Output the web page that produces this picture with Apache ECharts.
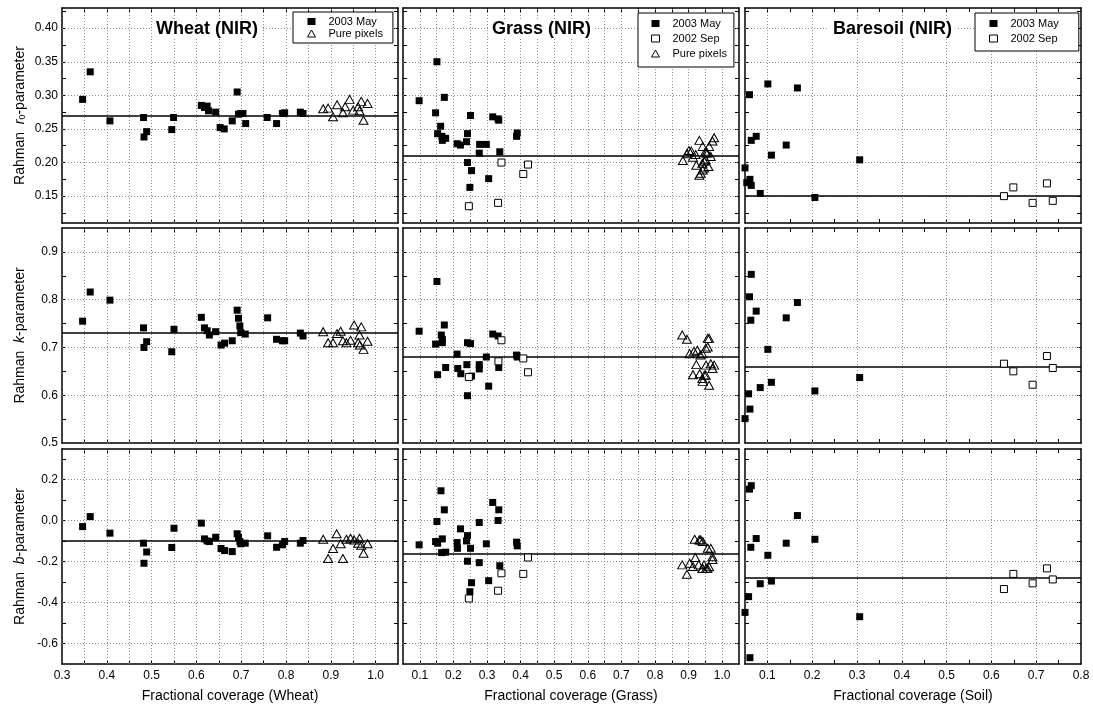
<!DOCTYPE html>
<html>
<head>
<meta charset="utf-8">
<title>Rahman parameters vs fractional coverage</title>
<script src="https://cdn.jsdelivr.net/npm/echarts@6.0.0/dist/echarts.min.js"></script>
<style>
  html, body { margin: 0; padding: 0; background: #fff; }
  #main { width: 1093px; height: 711px; }
</style>
</head>
<body>
<div id="main"></div>
<script>
const FONT = "'Liberation Sans', Arial, sans-serif";

// column titles / axis names
const colTitles = ["Wheat (NIR)", "Grass (NIR)", "Baresoil (NIR)"];
const xNames = ["Fractional coverage (Wheat)", "Fractional coverage (Grass)", "Fractional coverage (Soil)"];
const yNames = ["Rahman  {i|r}{s|0}-parameter", "Rahman  {i|k}-parameter", "Rahman  {i|b}-parameter"];

// axis ranges, ticks, labels, grid lines
const xRanges = [[0.3, 1.05], [0.05, 1.05], [0.05, 0.8]];
const xTicks = [
  [0.35, 0.4, 0.45, 0.5, 0.55, 0.6, 0.65, 0.7, 0.75, 0.8, 0.85, 0.9, 0.95, 1.0],
  [0.1, 0.15, 0.2, 0.25, 0.3, 0.35, 0.4, 0.45, 0.5, 0.55, 0.6, 0.65, 0.7, 0.75, 0.8, 0.85, 0.9, 0.95, 1.0],
  [0.1, 0.15, 0.2, 0.25, 0.3, 0.35, 0.4, 0.45, 0.5, 0.55, 0.6, 0.65, 0.7, 0.75]
];
const xLabels = [
  [0.3, 0.4, 0.5, 0.6, 0.7, 0.8, 0.9, 1.0],
  [0.1, 0.2, 0.3, 0.4, 0.5, 0.6, 0.7, 0.8, 0.9, 1.0],
  [0.1, 0.2, 0.3, 0.4, 0.5, 0.6, 0.7, 0.8]
];
const xGrid = [
  [0.35, 0.4, 0.45, 0.5, 0.55, 0.6, 0.65, 0.7, 0.75, 0.8, 0.85, 0.9, 0.95, 1.0],
  [0.1, 0.15, 0.2, 0.25, 0.3, 0.35, 0.4, 0.45, 0.5, 0.55, 0.6, 0.65, 0.7, 0.75, 0.8, 0.85, 0.9, 0.95, 1.0],
  [0.1, 0.2, 0.3, 0.4, 0.5, 0.6, 0.7]
];
const yRanges = [[0.11, 0.43], [0.5, 0.95], [-0.7, 0.35]];
const yTicks = [
  [0.125, 0.15, 0.175, 0.2, 0.225, 0.25, 0.275, 0.3, 0.325, 0.35, 0.375, 0.4, 0.425],
  [0.55, 0.6, 0.65, 0.7, 0.75, 0.8, 0.85, 0.9],
  [-0.6, -0.5, -0.4, -0.3, -0.2, -0.1, 0.0, 0.1, 0.2, 0.3]
];
const yLabels = [
  [0.15, 0.2, 0.25, 0.3, 0.35, 0.4],
  [0.5, 0.6, 0.7, 0.8, 0.9],
  [-0.6, -0.4, -0.2, 0.0, 0.2]
];
const yGrid = [
  [0.15, 0.2, 0.25, 0.3, 0.35, 0.4],
  [0.6, 0.7, 0.8, 0.9],
  [-0.6, -0.4, -0.2, 0.0, 0.2]
];
const yDecimals = [2, 1, 1];

// fitted (mean) lines per panel row
const r0Means = [0.270, 0.206, 0.153];
const kMeans = [0.733, 0.680, 0.655];
const bMeans = [-0.102, -0.159, -0.283];

// ---- wheat ----
const wheatR0May = [[0.346,0.294],[0.363,0.335],[0.407,0.262],[0.482,0.267],[0.483,0.238],[0.489,0.246],[0.545,0.249],[0.549,0.267],[0.611,0.285],[0.618,0.282],[0.624,0.284],[0.627,0.277],[0.643,0.275],[0.653,0.252],[0.662,0.250],[0.680,0.262],[0.691,0.305],[0.694,0.272],[0.699,0.273],[0.704,0.273],[0.710,0.258],[0.758,0.267],[0.779,0.258],[0.792,0.273],[0.797,0.274],[0.832,0.275],[0.838,0.273]];
const wheatR0Pure = [[0.883,0.280],[0.894,0.281],[0.905,0.268],[0.914,0.286],[0.927,0.274],[0.932,0.283],[0.942,0.294],[0.950,0.278],[0.961,0.283],[0.964,0.277],[0.968,0.291],[0.973,0.263],[0.982,0.288]];
const wheatKMay = [[0.346,0.755],[0.363,0.816],[0.407,0.799],[0.482,0.741],[0.483,0.700],[0.489,0.712],[0.545,0.691],[0.550,0.738],[0.611,0.763],[0.618,0.741],[0.624,0.735],[0.629,0.726],[0.643,0.733],[0.655,0.705],[0.663,0.709],[0.680,0.714],[0.691,0.778],[0.694,0.761],[0.697,0.745],[0.699,0.731],[0.709,0.728],[0.759,0.762],[0.779,0.717],[0.792,0.714],[0.797,0.714],[0.832,0.730],[0.838,0.724]];
const wheatKPure = [[0.883,0.733],[0.894,0.710],[0.905,0.710],[0.914,0.729],[0.922,0.734],[0.927,0.714],[0.935,0.710],[0.944,0.715],[0.952,0.747],[0.961,0.710],[0.964,0.726],[0.965,0.705],[0.968,0.743],[0.973,0.696],[0.982,0.713]];
const wheatBMay = [[0.346,-0.029],[0.363,0.020],[0.407,-0.061],[0.482,-0.110],[0.483,-0.208],[0.489,-0.153],[0.545,-0.131],[0.550,-0.037],[0.611,-0.012],[0.618,-0.089],[0.624,-0.099],[0.629,-0.102],[0.643,-0.081],[0.655,-0.136],[0.663,-0.146],[0.680,-0.151],[0.691,-0.064],[0.694,-0.081],[0.697,-0.102],[0.699,-0.113],[0.709,-0.110],[0.759,-0.074],[0.779,-0.130],[0.792,-0.118],[0.797,-0.102],[0.832,-0.110],[0.838,-0.097]];
const wheatBPure = [[0.883,-0.091],[0.894,-0.185],[0.905,-0.136],[0.913,-0.064],[0.922,-0.113],[0.927,-0.185],[0.935,-0.091],[0.944,-0.086],[0.952,-0.094],[0.961,-0.110],[0.964,-0.086],[0.968,-0.120],[0.973,-0.159],[0.982,-0.113]];

// ---- grass ----
const grassR0May = [[0.098,0.292],[0.151,0.350],[0.173,0.297],[0.147,0.274],[0.162,0.254],[0.153,0.243],[0.166,0.239],[0.177,0.236],[0.167,0.233],[0.211,0.228],[0.221,0.226],[0.239,0.231],[0.242,0.243],[0.251,0.270],[0.242,0.200],[0.254,0.188],[0.249,0.163],[0.277,0.214],[0.278,0.227],[0.298,0.227],[0.305,0.176],[0.317,0.268],[0.333,0.265],[0.335,0.263],[0.338,0.216],[0.388,0.239],[0.390,0.244]];
const grassR0Sep = [[0.246,0.135],[0.333,0.140],[0.343,0.200],[0.408,0.183],[0.422,0.197]];
const grassR0Pure = [[0.883,0.203],[0.895,0.213],[0.901,0.218],[0.908,0.217],[0.913,0.208],[0.921,0.212],[0.923,0.196],[0.932,0.233],[0.932,0.181],[0.936,0.184],[0.941,0.199],[0.942,0.224],[0.942,0.189],[0.947,0.202],[0.951,0.204],[0.951,0.217],[0.946,0.192],[0.952,0.214],[0.956,0.214],[0.959,0.194],[0.961,0.224],[0.966,0.209],[0.971,0.232],[0.976,0.237]];
const grassKMay = [[0.098,0.734],[0.151,0.838],[0.173,0.747],[0.164,0.726],[0.167,0.717],[0.167,0.710],[0.147,0.707],[0.177,0.658],[0.153,0.643],[0.211,0.686],[0.213,0.656],[0.222,0.645],[0.240,0.664],[0.242,0.710],[0.251,0.708],[0.242,0.599],[0.254,0.640],[0.277,0.664],[0.277,0.655],[0.298,0.680],[0.305,0.619],[0.317,0.728],[0.333,0.724],[0.335,0.658],[0.388,0.684],[0.390,0.680]];
const grassKSep = [[0.246,0.638],[0.334,0.671],[0.343,0.715],[0.408,0.677],[0.422,0.648]];
const grassKPure = [[0.881,0.726],[0.895,0.717],[0.903,0.687],[0.913,0.643],[0.916,0.692],[0.923,0.664],[0.926,0.694],[0.933,0.645],[0.935,0.684],[0.941,0.687],[0.941,0.635],[0.942,0.629],[0.947,0.642],[0.951,0.698],[0.951,0.642],[0.952,0.663],[0.957,0.719],[0.957,0.701],[0.961,0.719],[0.961,0.621],[0.966,0.666],[0.971,0.656],[0.976,0.663]];
const grassBMay = [[0.098,-0.118],[0.163,0.146],[0.173,0.053],[0.151,-0.004],[0.147,-0.102],[0.153,-0.110],[0.167,-0.089],[0.165,-0.156],[0.177,-0.154],[0.221,-0.040],[0.211,-0.107],[0.212,-0.135],[0.242,-0.073],[0.239,-0.099],[0.251,-0.135],[0.242,-0.198],[0.254,-0.303],[0.249,-0.347],[0.277,-0.009],[0.277,-0.205],[0.298,-0.113],[0.305,-0.293],[0.317,0.089],[0.335,0.053],[0.333,0.001],[0.338,-0.220],[0.388,-0.105],[0.390,-0.123]];
const grassBSep = [[0.246,-0.380],[0.333,-0.342],[0.343,-0.257],[0.408,-0.260],[0.422,-0.180]];
const grassBPure = [[0.881,-0.216],[0.895,-0.262],[0.903,-0.208],[0.913,-0.224],[0.918,-0.091],[0.920,-0.180],[0.930,-0.216],[0.932,-0.094],[0.936,-0.094],[0.941,-0.233],[0.942,-0.102],[0.942,-0.233],[0.946,-0.216],[0.952,-0.233],[0.956,-0.233],[0.957,-0.135],[0.961,-0.225],[0.966,-0.135],[0.971,-0.176],[0.971,-0.190]];

// ---- bare soil ----
const soilR0May = [[0.050,0.192],[0.054,0.170],[0.060,0.301],[0.061,0.175],[0.064,0.233],[0.064,0.166],[0.075,0.239],[0.084,0.154],[0.101,0.317],[0.109,0.211],[0.142,0.226],[0.167,0.311],[0.206,0.148],[0.306,0.204]];
const soilR0Sep = [[0.628,0.150],[0.649,0.163],[0.692,0.140],[0.724,0.169],[0.737,0.143]];
const soilKMay = [[0.050,0.551],[0.058,0.603],[0.060,0.806],[0.061,0.571],[0.063,0.757],[0.064,0.853],[0.075,0.776],[0.084,0.616],[0.101,0.696],[0.109,0.627],[0.142,0.762],[0.167,0.794],[0.206,0.609],[0.306,0.637]];
const soilKSep = [[0.628,0.666],[0.649,0.650],[0.692,0.622],[0.724,0.682],[0.737,0.657]];
const soilBMay = [[0.050,-0.448],[0.058,-0.371],[0.060,0.154],[0.061,-0.669],[0.063,-0.130],[0.064,0.171],[0.075,-0.087],[0.084,-0.308],[0.101,-0.169],[0.109,-0.295],[0.142,-0.110],[0.167,0.025],[0.206,-0.091],[0.306,-0.469]];
const soilBSep = [[0.628,-0.334],[0.649,-0.260],[0.692,-0.306],[0.724,-0.233],[0.737,-0.287]];

// panel contents, row by row
const panels = [
  [["2003 May", wheatR0May], ["Pure pixels", wheatR0Pure]],
  [["2003 May", grassR0May], ["2002 Sep", grassR0Sep], ["Pure pixels", grassR0Pure]],
  [["2003 May", soilR0May], ["2002 Sep", soilR0Sep]],
  [["2003 May", wheatKMay], ["Pure pixels", wheatKPure]],
  [["2003 May", grassKMay], ["2002 Sep", grassKSep], ["Pure pixels", grassKPure]],
  [["2003 May", soilKMay], ["2002 Sep", soilKSep]],
  [["2003 May", wheatBMay], ["Pure pixels", wheatBPure]],
  [["2003 May", grassBMay], ["2002 Sep", grassBSep], ["Pure pixels", grassBPure]],
  [["2003 May", soilBMay], ["2002 Sep", soilBSep]]
];
const rowMeans = [r0Means, kMeans, bMeans];

// layout (px)
const gridLeft = [62, 403, 745];
const gridTop = [8, 228, 449];
const gridW = 336;
const gridH = 215;

const markStyle = {
  "2003 May": { symbol: "rect", symbolSize: 7, itemStyle: { color: "#000", opacity: 1 } },
  "2002 Sep": { symbol: "rect", symbolSize: 7, itemStyle: { color: "#fff", borderColor: "#000", borderWidth: 1, opacity: 1 } },
  "Pure pixels": { symbol: "triangle", symbolSize: [9, 8], itemStyle: { color: "rgba(255,255,255,0)", borderColor: "#000", borderWidth: 1, opacity: 1 } }
};

let grids = [], xAxes = [], yAxes = [], series = [];

for (let r = 0; r < 3; r++) {
  for (let c = 0; c < 3; c++) {
    let p = r * 3 + c;
    grids.push({
      left: gridLeft[c], top: gridTop[r], width: gridW, height: gridH,
      containLabel: false, outerBoundsMode: "none"
    });

    let axLine = { onZero: false, lineStyle: { color: "#000", width: 1.5 } };
    // bottom / top x axes
    ["bottom", "top"].forEach(function (pos) {
      let isMain = pos === "bottom";
      xAxes.push({
        gridIndex: p, type: "value", position: pos,
        min: xRanges[c][0], max: xRanges[c][1],
        axisLine: axLine,
        axisTick: { inside: true, length: 4, customValues: xTicks[c], lineStyle: { color: "#000", width: 1 } },
        axisLabel: {
          show: isMain && r === 2, customValues: xLabels[c],
          formatter: function (v) { return v.toFixed(1); },
          color: "#000", fontSize: 12, fontFamily: FONT, margin: 6
        },
        splitLine: { show: false },
        name: isMain && r === 2 ? xNames[c] : "",
        nameLocation: "middle", nameGap: 25,
        nameTextStyle: { color: "#000", fontSize: 14, fontFamily: FONT }
      });
    });
    // left / right y axes
    ["left", "right"].forEach(function (pos) {
      let isMain = pos === "left";
      yAxes.push({
        gridIndex: p, type: "value", position: pos,
        min: yRanges[r][0], max: yRanges[r][1],
        axisLine: axLine,
        axisTick: { inside: true, length: 4, customValues: yTicks[r], lineStyle: { color: "#000", width: 1 } },
        axisLabel: {
          show: isMain && c === 0, customValues: yLabels[r],
          formatter: function (v) { return v.toFixed(yDecimals[r]); },
          color: "#000", fontSize: 12, fontFamily: FONT, margin: 4
        },
        splitLine: { show: false },
        name: isMain && c === 0 ? yNames[r] : "",
        nameLocation: "middle", nameGap: 35,
        nameTextStyle: {
          color: "#000", fontSize: 14, fontFamily: FONT,
          rich: {
            i: { fontStyle: "italic", fontSize: 14, fontFamily: FONT, color: "#000" },
            s: { fontSize: 9, fontFamily: FONT, color: "#000", verticalAlign: "bottom" }
          }
        }
      });
    });

    // dotted grid lines + fitted line, drawn through the axes' scales
    let gridLines = yGrid[r].map(function (v) { return { yAxis: v }; })
      .concat(xGrid[c].map(function (v) { return { xAxis: v }; }));

    panels[p].forEach(function (item, k) {
      let st = markStyle[item[0]];
      let s = {
        type: "scatter", name: item[0], data: item[1],
        xAxisIndex: 2 * p, yAxisIndex: 2 * p,
        symbol: st.symbol, symbolSize: st.symbolSize, itemStyle: st.itemStyle,
        clip: true, z: 3,
        emphasis: { disabled: true }
      };
      if (k === 0) {
        s.markLine = {
          silent: true, symbol: "none", z: 1, animation: false,
          label: { show: false },
          lineStyle: { color: "#8a8a8a", type: [1, 2], width: 1 },
          emphasis: { disabled: true },
          data: gridLines
        };
      } else if (k === 1) {
        s.markLine = {
          silent: true, symbol: "none", z: 2, animation: false,
          label: { show: false },
          lineStyle: { color: "#000", type: "solid", width: 1.5 },
          emphasis: { disabled: true },
          data: [{ yAxis: rowMeans[r][c] }]
        };
      }
      series.push(s);
    });
  }
}

// titles and legends of the top row
const titleLeft = [152, 488, 829];
let titles = colTitles.map(function (t, i) {
  return {
    text: t, left: titleLeft[i], top: 20, padding: [0, 4],
    backgroundColor: "#fff",
    textStyle: { fontSize: 18, fontWeight: "bold", color: "#000", fontFamily: FONT }
  };
});

const legendItems = [["2003 May", "Pure pixels"], ["2003 May", "2002 Sep", "Pure pixels"], ["2003 May", "2002 Sep"]];
const legendPos = [[293, 12, [4, 10, 4, 14], 1], [638, 13, [5, 7, 8, 13], 4], [975, 13, [5, 20, 7, 14], 4]];
let legends = legendItems.map(function (names, i) {
  return {
    data: names, orient: "vertical", align: "left",
    left: legendPos[i][0], top: legendPos[i][1], padding: legendPos[i][2],
    itemWidth: 8, itemHeight: 7, itemGap: legendPos[i][3],
    itemStyle: { borderWidth: 1 },
    backgroundColor: "#fff", borderColor: "#000", borderWidth: 1, borderRadius: 0,
    selectedMode: false,
    textStyle: { color: "#000", fontSize: 11, fontFamily: FONT, padding: [0, 0, 0, 8] }
  };
});

let myChart = echarts.init(document.getElementById("main"), null, { renderer: "canvas" });
option = {
  backgroundColor: "#fff",
  animation: false,
  title: titles,
  legend: legends,
  grid: grids,
  xAxis: xAxes,
  yAxis: yAxes,
  series: series
};
myChart.setOption(option);
</script>
</body>
</html>
